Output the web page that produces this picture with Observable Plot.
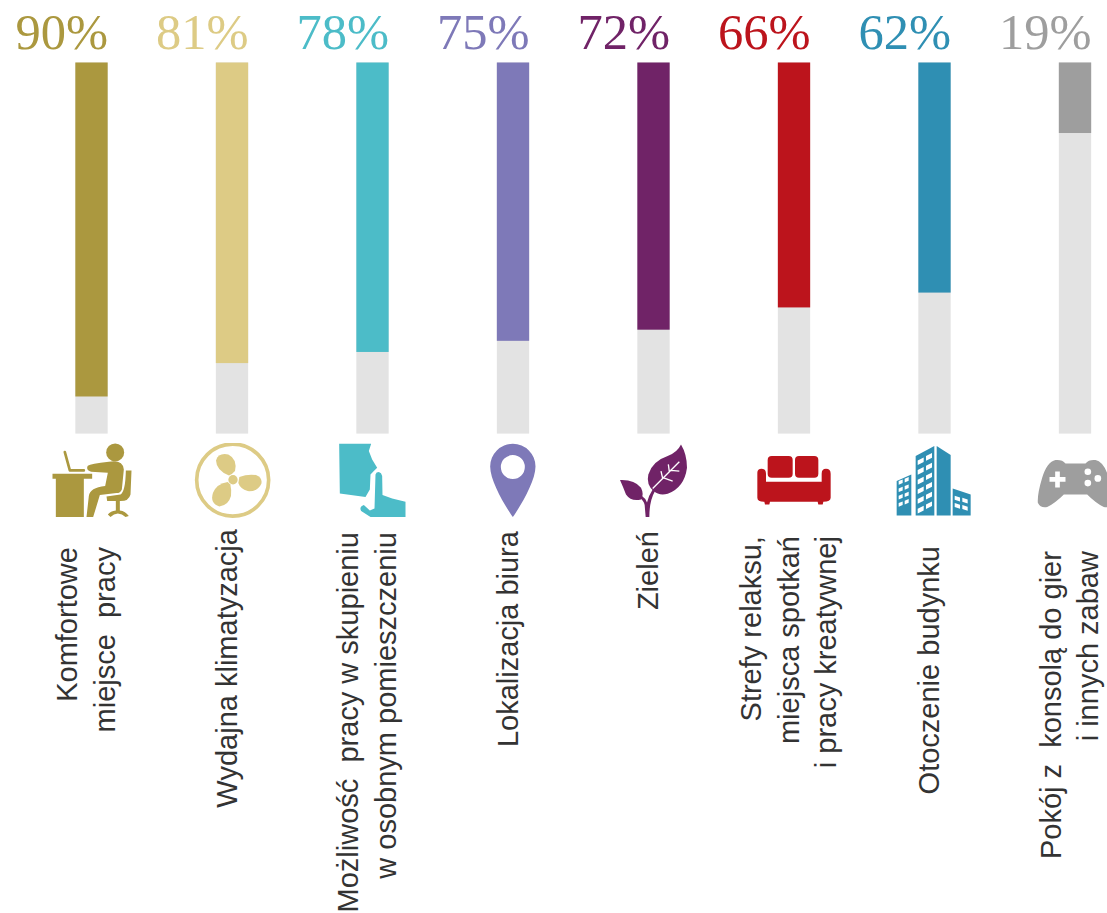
<!DOCTYPE html>
<html lang="pl">
<head>
<meta charset="utf-8">
<title>Komfortowe miejsce pracy</title>
<script src="https://cdn.jsdelivr.net/npm/d3@7"></script>
<script src="https://cdn.jsdelivr.net/npm/@observablehq/plot@0.6"></script>
<style>
html,body{margin:0;padding:0;background:#fff;overflow:hidden}
svg{display:block}
</style>
</head>
<body>
<div id="chart"></div>
<script>
const categories = [
  "Komfortowe\nmiejsce  pracy",
  "Wydajna klimatyzacja",
  "Możliwość  pracy w skupieniu\nw osobnym pomieszczeniu",
  "Lokalizacja biura",
  "Zieleń",
  "Strefy relaksu,\nmiejsca spotkań\ni pracy kreatywnej",
  "Otoczenie budynku",
  "Pokój z  konsolą do gier\ni innych zabaw"
];
const values = [90, 81, 78, 75, 72, 66, 62, 19];
const colors = ["#ab983f", "#ddcb85", "#4cbcc8", "#7e79b8", "#702367", "#bc141c", "#2f8fb3", "#9e9e9e"];
const trackColor = "#e3e3e3";

const box = ox => `viewBox="${ox} 36 252 228"`;
const wrap = (vb, body) => "data:image/svg+xml," + encodeURIComponent(
  `<svg xmlns="http://www.w3.org/2000/svg" width="84" height="76" ${vb}>${body}</svg>`);

function buildingWindows() {
  let s = "";
  const win = (x, y, w, h, slope) =>
    `<path d="M${x} ${y}l${w} ${-slope}v${h}l${-w} ${slope}z" fill="#fff"/>`;
  for (let r = 0; r < 6; r++) for (let c = 0; c < 2; c++)
    s += win(503 + c * 25, 88 + r * 29 + (c === 0 ? 0 : -13), 18, 14, 9);
  for (let r = 0; r < 4; r++) for (let c = 0; c < 2; c++)
    s += win(446 + c * 18, 150 + r * 22 + (c === 0 ? 0 : -7), 12, 11, 5);
  for (let r = 0; r < 2; r++) for (let c = 0; c < 2; c++)
    s += `<path d="M${614 + c * 23} ${194 + r * 22 + c * 6}l16 5v12l-16 -5z" fill="#fff"/>`;
  return s;
}

const icons = [
  wrap(box(58.5), `<g fill="${colors[0]}">
    <circle cx="254" cy="64" r="27"/>
    <path d="M103 63L118 118H160" fill="none" stroke="${colors[0]}" stroke-width="8" stroke-linecap="round" stroke-linejoin="round"/>
    <path d="M66 128H185V143H160V258H76V143H66Z"/>
    <path d="M172 104Q180 98 235 92Q277 85 280 115L274 175Q270 186 258 186L208 192L188 258H168L175 195Q178 170 224 165L232 125L182 122Q165 116 172 104Z"/>
    <path d="M286 118H303L300 190Q295 210 270 210H268V238Q285 240 295 255L285 258Q275 248 262 247Q250 248 240 258L232 250Q240 240 256 238V210H230L228 196L270 190Q285 180 286 118Z"/></g>`),
  wrap(box(478.5), `<g fill="${colors[1]}">
    <circle cx="605" cy="147" r="108" fill="none" stroke="${colors[1]}" stroke-width="11"/>
    <circle cx="606" cy="146" r="14"/>
    <path d="M594 133Q556 118 555 88Q562 64 592 70Q620 84 612 120Q604 130 594 133Z"/>
    <path d="M625 138Q650 128 675 132Q695 140 691 158Q680 182 650 180Q628 174 622 156Z"/>
    <path d="M590 153Q558 158 546 185Q536 217 565 226Q592 224 600 195Q602 175 598 160Z"/></g>`),
  wrap(box(901.5), `<g fill="${colors[2]}">
    <path d="M926 38H1022L1015 60L1025 85L1040 110L1030 120L1020 130L1018 175L1005 198L928 187Z"/>
    <path d="M1035 130Q1037 123 1045 123Q1053 125 1055 135L1056 192L1085 202L1125 212V258H1020L992 240Q985 228 1000 222L1018 238L1032 232Z"/></g>`),
  wrap(box(3), `<path fill="${colors[3]}" fill-rule="evenodd" d="M127 38A68 68 0 0 1 195 106C195 150 150 225 127 258C104 225 59 150 59 106A68 68 0 0 1 127 38ZM127 72A36 36 0 1 0 127 144A36 36 0 1 0 127 72Z"/>`),
  wrap(box(423), `<g fill="${colors[4]}">
    <path d="M630 40Q648 70 648 110Q640 170 590 188Q565 195 548 180Q525 160 532 130Q545 90 590 75Q620 62 630 40Z"/>
    <path d="M447 147Q490 145 510 170Q520 190 510 205Q480 212 465 190Q455 165 447 147Z"/>
    <path d="M524 258L521 222Q518 208 506 200L512 194Q524 202 528 214Q532 195 545 175L552 180Q535 210 535 258Z"/>
    <path d="M545 172L625 92M575 142L570 120M595 122L592 100M578 140L605 150M600 118L625 120" fill="none" stroke="#fff" stroke-width="4"/></g>`),
  wrap(box(7.5), `<g fill="${colors[5]}">
    <rect x="53" y="75" width="75" height="65" rx="12"/>
    <rect x="135" y="75" width="70" height="65" rx="12"/>
    <path d="M22 125Q22 113 35 113Q48 113 48 128V152H215V128Q215 113 228 113Q242 113 242 128V200Q242 212 220 212L218 220H205L203 212H60L58 220H45L43 212Q22 212 22 200Z"/></g>`),
  wrap(box(429), `<g fill="${colors[6]}">
    <path d="M497 75L553 45V253H497Z"/>
    <path d="M560 45L602 72V253H560Z"/>
    <path d="M440 150L484 130V253H440Z"/>
    <path d="M608 172L662 190V253H608Z"/></g>${buildingWindows()}`),
  wrap(box(849), `<path fill="${colors[7]}" d="M915 87Q935 85 945 97H1005Q1015 85 1035 87Q1060 92 1075 140Q1090 190 1088 215Q1080 232 1060 228Q1035 215 1010 190H940Q915 215 890 228Q870 232 862 215Q860 190 875 140Q890 92 915 87Z"/>
    <path fill="#fff" d="M914 121H928V138H945V152H928V169H914V152H897V138H914Z"/>
    <g fill="#fff"><circle cx="1012" cy="122" r="10"/><circle cx="1042" cy="142" r="10"/><circle cx="1012" cy="156" r="10"/></g>`)
];

const rows = categories.map((category, i) => ({category, value: values[i], icon: icons[i]}));

// distance from the foot of the bars to the upper end of each rotated label
const labelDrop = [113, 95, 98, 97, 97, 102, 112, 117];

const chart = Plot.plot({
  width: 1107,
  height: 913,
  margin: 0,
  style: {background: "#fff"},
  x: {type: "band", domain: categories, range: [21.25, 1145.25], paddingInner: 0.77, paddingOuter: 0.385, round: false, axis: null},
  y: {domain: [0, 100], range: [62.5, 433.6], axis: null},
  color: {domain: categories, range: colors},
  marks: [
    Plot.barY(rows, {x: "category", y1: () => 0, y2: () => 100, fill: trackColor}),
    Plot.barY(rows, {x: "category", y1: () => 0, y2: "value", fill: "category"}),
    Plot.text(rows, {
      x: "category", y: () => 0, text: d => `${d.value}%`, fill: "category",
      fontFamily: "Liberation Serif", fontSize: 50.5, textAnchor: "end", lineAnchor: "bottom", dx: 16, dy: -14
    }),
    Plot.image(rows, {x: "category", y: () => 100, src: "icon", width: 84, height: 76, dy: 47}),
    ...rows.map((d, i) => Plot.text([d], {
      x: "category", y: () => 100, text: "category", fill: "#333",
      fontFamily: "Liberation Sans", fontSize: 29, lineHeight: 1.3,
      rotate: -90, textAnchor: "end", lineAnchor: "middle", dy: labelDrop[i], dx: -8
    }))
  ]
});
document.getElementById("chart").append(chart);
</script>
</body>
</html>
